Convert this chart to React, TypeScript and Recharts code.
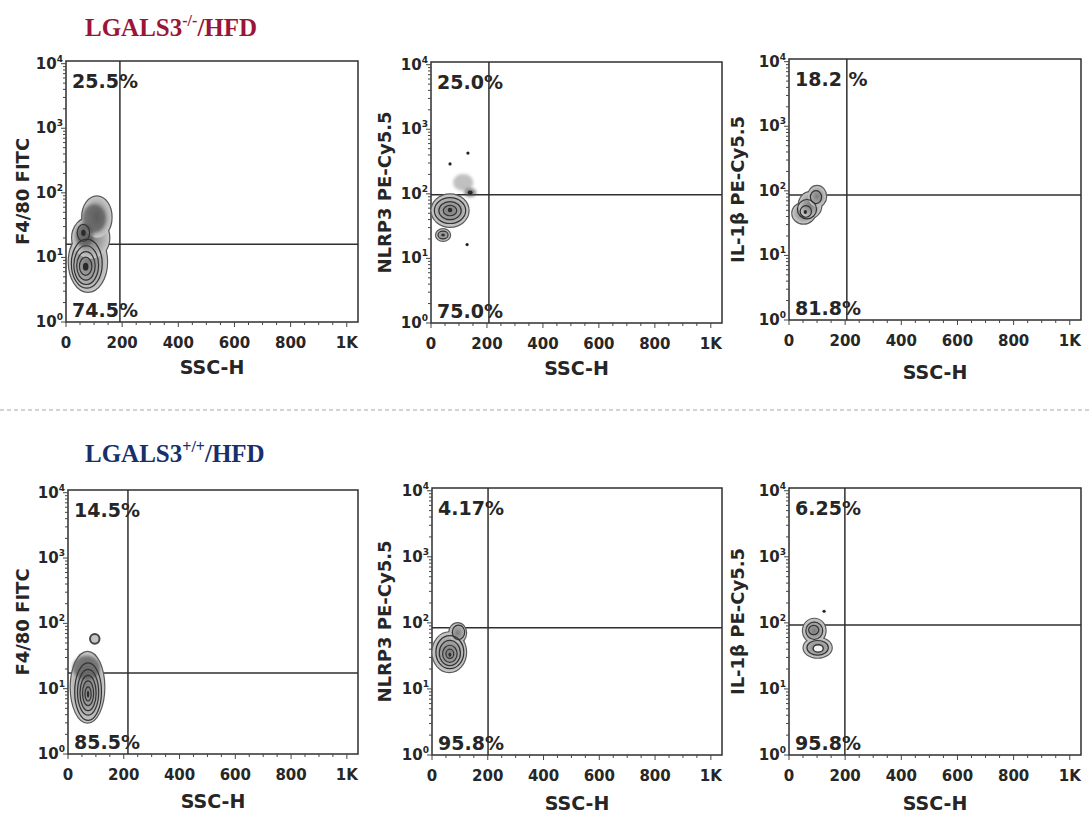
import React from 'react';
import {
  ScatterChart,
  Scatter,
  XAxis,
  YAxis,
  ReferenceArea,
  ReferenceLine,
  Label,
} from 'recharts';

// axis ranges shared by all six plots (linear SSC-H, log fluorescence)
const SSC_MAX = 1040;
const FL_MAX = 11000;
const FL_DECADES = Math.log10(FL_MAX);

const sscTicks = [0, 50, 100, 150, 200, 250, 300, 350, 400, 450, 500, 550, 600, 650, 700, 750, 800, 850, 900, 950, 1000];
const sscTickLabels: Record<number, string> = { 0: '0', 200: '200', 400: '400', 600: '600', 800: '800', 1000: '1K' };
const flTicks = [
  1, 2, 3, 4, 5, 6, 7, 8, 9,
  10, 20, 30, 40, 50, 60, 70, 80, 90,
  100, 200, 300, 400, 500, 600, 700, 800, 900,
  1000, 2000, 3000, 4000, 5000, 6000, 7000, 8000, 9000,
  10000,
];
const flDecadeLabels: Record<number, string> = { 1: '0', 10: '1', 100: '2', 1000: '3', 10000: '4' };

const markers = ['F4/80 FITC', 'NLRP3 PE-Cy5.5', 'IL-1β PE-Cy5.5'];

// LGALS3-/- row
const koUpper = ['25.5%', '25.0%', '18.2 %'];
const koLower = ['74.5%', '75.0%', '81.8%'];
const koGateSsc = [192, 207, 206];
const koGateFl = [16, 97, 86];

// LGALS3+/+ row
const wtUpper = ['14.5%', '4.17%', '6.25%'];
const wtLower = ['85.5%', '95.8%', '95.8%'];
const wtGateSsc = [215, 201, 199];
const wtGateFl = [17.4, 84, 93];

// contour rings: centre (ssc, fl), half-width sx in SSC units, half-height sy in decades
type Ring = { ssc: number; fl: number; sx?: number; sy?: number; kind: string };

const koF480: Ring[] = [
  { ssc: 78, fl: 8.5, sx: 68, sy: 0.46, kind: 'halo' },
  { ssc: 88, fl: 20, sx: 66, sy: 0.32, kind: 'halo' },
  { ssc: 110, fl: 42, sx: 52, sy: 0.32, kind: 'halo' },
  { ssc: 100, fl: 40, sx: 42, sy: 0.22, kind: 'shade' },
  { ssc: 66, fl: 22, sx: 32, sy: 0.18, kind: 'shade' },
  { ssc: 74, fl: 8, sx: 55, sy: 0.38, kind: 'line' },
  { ssc: 72, fl: 7.6, sx: 44, sy: 0.3, kind: 'line' },
  { ssc: 71, fl: 7.4, sx: 33, sy: 0.22, kind: 'line' },
  { ssc: 70, fl: 7.3, sx: 22, sy: 0.14, kind: 'line' },
  { ssc: 62, fl: 24, sx: 22, sy: 0.13, kind: 'line' },
  { ssc: 70, fl: 7.2, sx: 10, sy: 0.06, kind: 'core' },
  { ssc: 62, fl: 24, sx: 8, sy: 0.05, kind: 'core' },
];

const koNlrp3: Ring[] = [
  { ssc: 68, fl: 55, sx: 66, sy: 0.25, kind: 'halo' },
  { ssc: 43, fl: 23, sx: 25, sy: 0.09, kind: 'halo' },
  { ssc: 115, fl: 150, sx: 36, sy: 0.13, kind: 'haze' },
  { ssc: 140, fl: 105, sx: 22, sy: 0.07, kind: 'shade' },
  { ssc: 68, fl: 55, sx: 56, sy: 0.2, kind: 'line' },
  { ssc: 68, fl: 55, sx: 40, sy: 0.14, kind: 'line' },
  { ssc: 68, fl: 55, sx: 24, sy: 0.08, kind: 'line' },
  { ssc: 43, fl: 23, sx: 18, sy: 0.06, kind: 'line' },
  { ssc: 68, fl: 56, sx: 8, sy: 0.035, kind: 'core' },
  { ssc: 43, fl: 23, sx: 6, sy: 0.02, kind: 'core' },
  { ssc: 140, fl: 105, sx: 9, sy: 0.03, kind: 'core' },
  { ssc: 68, fl: 290, kind: 'dot' },
  { ssc: 132, fl: 427, kind: 'dot' },
  { ssc: 129, fl: 16.4, kind: 'dot' },
];

const koIl1b: Ring[] = [
  { ssc: 52, fl: 45, sx: 40, sy: 0.16, kind: 'halo' },
  { ssc: 75, fl: 60, sx: 40, sy: 0.2, kind: 'halo' },
  { ssc: 100, fl: 82, sx: 32, sy: 0.16, kind: 'halo' },
  { ssc: 64, fl: 52, sx: 34, sy: 0.15, kind: 'line' },
  { ssc: 60, fl: 48, sx: 20, sy: 0.09, kind: 'line' },
  { ssc: 96, fl: 80, sx: 20, sy: 0.1, kind: 'line' },
  { ssc: 58, fl: 47, sx: 6, sy: 0.03, kind: 'core' },
];

const wtF480: Ring[] = [
  { ssc: 70, fl: 10.5, sx: 60, sy: 0.54, kind: 'halo' },
  { ssc: 66, fl: 21, sx: 50, sy: 0.18, kind: 'shade' },
  { ssc: 72, fl: 9, sx: 48, sy: 0.44, kind: 'line' },
  { ssc: 72, fl: 8.8, sx: 38, sy: 0.35, kind: 'line' },
  { ssc: 72, fl: 8.6, sx: 29, sy: 0.27, kind: 'line' },
  { ssc: 72, fl: 8.5, sx: 20, sy: 0.19, kind: 'line' },
  { ssc: 72, fl: 8.3, sx: 11, sy: 0.11, kind: 'line' },
  { ssc: 72, fl: 8.2, sx: 4, sy: 0.05, kind: 'core' },
  { ssc: 96, fl: 58, sx: 17, sy: 0.075, kind: 'bubble' },
];

const wtNlrp3: Ring[] = [
  { ssc: 62, fl: 36, sx: 60, sy: 0.3, kind: 'halo' },
  { ssc: 92, fl: 70, sx: 30, sy: 0.15, kind: 'halo' },
  { ssc: 64, fl: 36, sx: 50, sy: 0.25, kind: 'line' },
  { ssc: 64, fl: 35, sx: 38, sy: 0.19, kind: 'line' },
  { ssc: 64, fl: 34, sx: 26, sy: 0.13, kind: 'line' },
  { ssc: 64, fl: 34, sx: 14, sy: 0.07, kind: 'line' },
  { ssc: 95, fl: 72, sx: 22, sy: 0.11, kind: 'line' },
  { ssc: 64, fl: 33, sx: 5, sy: 0.03, kind: 'core' },
];

const wtIl1b: Ring[] = [
  { ssc: 90, fl: 76, sx: 40, sy: 0.18, kind: 'halo' },
  { ssc: 102, fl: 42, sx: 50, sy: 0.15, kind: 'halo' },
  { ssc: 90, fl: 76, sx: 30, sy: 0.13, kind: 'line' },
  { ssc: 88, fl: 78, sx: 18, sy: 0.07, kind: 'line' },
  { ssc: 102, fl: 42, sx: 38, sy: 0.11, kind: 'line' },
  { ssc: 104, fl: 41, sx: 18, sy: 0.055, kind: 'hole' },
  { ssc: 125, fl: 150, kind: 'dot' },
];

// plot frame of every panel on the page
type Frame = { left: number; top: number; w: number; h: number; yTitleGap: number; xTitleGap: number };
const frames: Frame[] = [
  { left: 66, top: 61, w: 292, h: 261, yTitleGap: 43, xTitleGap: 45 },
  { left: 431, top: 62, w: 291, h: 261, yTitleGap: 46, xTitleGap: 45 },
  { left: 789, top: 59, w: 292, h: 261, yTitleGap: 51, xTitleGap: 52 },
  { left: 68, top: 490, w: 290, h: 264, yTitleGap: 45, xTitleGap: 47 },
  { left: 432, top: 488, w: 290, h: 267, yTitleGap: 47, xTitleGap: 48 },
  { left: 789, top: 488, w: 292, h: 267, yTitleGap: 51, xTitleGap: 48 },
];

const FONT = '"DejaVu Sans", sans-serif';
const INK = '#262626';

const SscTick = (props: any) => {
  const { x, y, payload } = props;
  const label = sscTickLabels[payload.value];
  return (
    <g>
      <line x1={x} x2={x} y1={y} y2={y + (label ? 5 : 3)} stroke="#444" strokeWidth={1} />
      {label && (
        <text x={x} y={y + 26} textAnchor="middle" fontFamily={FONT} fontWeight="bold" fontSize={15} fill={INK}>
          {label}
        </text>
      )}
    </g>
  );
};

const FlTick = (props: any) => {
  const { x, y, payload } = props;
  const exp = flDecadeLabels[payload.value];
  return (
    <g>
      <line x1={x - (exp ? 5 : 3)} x2={x} y1={y} y2={y} stroke="#444" strokeWidth={1} />
      {exp && (
        <text x={x - 3} y={y + 5} textAnchor="end" fontFamily={FONT} fontWeight="bold" fontSize={15} fill={INK}>
          10
          <tspan fontSize={9} dy={-7}>{exp}</tspan>
        </text>
      )}
    </g>
  );
};

const ringStyles: Record<string, any> = {
  haloEdge: { fill: '#bdbdbd', stroke: '#5a5a5a', strokeWidth: 2.4 },
  halo: { fill: 'url(#haloFill)', stroke: 'none' },
  haze: { fill: '#8c8c8c', fillOpacity: 0.55, stroke: 'none', filter: 'url(#soften)' },
  shade: { fill: '#4a4a4a', fillOpacity: 0.6, stroke: 'none', filter: 'url(#soften)' },
  line: { fill: 'none', stroke: '#333', strokeWidth: 1.2 },
  hole: { fill: '#f4f4f4', stroke: '#333', strokeWidth: 1.4 },
  bubble: { fill: '#c4c4c4', stroke: '#444', strokeWidth: 2 },
  core: { fill: '#2a2a2a', stroke: 'none' },
};

const makeShape = (frame: Frame, style: string) => (props: any) => {
  const { cx, cy, payload } = props;
  if (cx == null || cy == null) return <g />;
  if (payload.kind === 'dot') return <circle cx={cx} cy={cy} r={1.6} fill="#222" />;
  const rx = ((payload.sx ?? 0) * frame.w) / SSC_MAX;
  const ry = ((payload.sy ?? 0) * frame.h) / FL_DECADES;
  return <ellipse cx={cx} cy={cy} rx={rx} ry={ry} {...ringStyles[style]} />;
};

interface PanelProps {
  frame: Frame;
  rings: Ring[];
  marker: string;
  upper: string;
  lower: string;
  gateSsc: number;
  gateFl: number;
}

const FlowPanel = ({ frame, rings, marker, upper, lower, gateSsc, gateFl }: PanelProps) => {
  const byKind = (k: string) => rings.filter((r) => r.kind === k);
  const halos = byKind('halo');
  return (
    <div style={{ position: 'absolute', left: frame.left - 62, top: frame.top - 12 }}>
      <ScatterChart
        width={62 + frame.w + 8}
        height={12 + frame.h + 62 + 4}
        margin={{ top: 12, right: 8, bottom: 4, left: 2 }}
      >
        <XAxis
          type="number"
          dataKey="ssc"
          domain={[0, SSC_MAX]}
          ticks={sscTicks}
          interval={0}
          tick={<SscTick />}
          tickSize={0}
          tickMargin={0}
          tickLine={false}
          axisLine={false}
          height={62}
          allowDataOverflow
        >
          <Label
            content={(p: any) => (
              <text
                x={p.viewBox.x + p.viewBox.width / 2}
                y={p.viewBox.y + frame.xTitleGap + 7}
                textAnchor="middle"
                fontFamily={FONT}
                fontWeight="bold"
                fontSize={19}
                fill={INK}
              >
                SSC-H
              </text>
            )}
          />
        </XAxis>
        <YAxis
          type="number"
          dataKey="fl"
          scale="log"
          domain={[1, FL_MAX]}
          ticks={flTicks}
          interval={0}
          tick={<FlTick />}
          tickSize={0}
          tickMargin={0}
          tickLine={false}
          axisLine={false}
          width={60}
          allowDataOverflow
        >
          <Label
            content={(p: any) => {
              const cx = p.viewBox.x + p.viewBox.width - frame.yTitleGap;
              const cy = p.viewBox.y + p.viewBox.height / 2;
              return (
                <text
                  transform={`translate(${cx},${cy}) rotate(-90)`}
                  textAnchor="middle"
                  dy="0.36em"
                  fontFamily={FONT}
                  fontWeight="bold"
                  fontSize={18}
                  fill={INK}
                >
                  {marker}
                </text>
              );
            }}
          />
        </YAxis>

        <Scatter data={halos} shape={makeShape(frame, 'haloEdge')} isAnimationActive={false} />
        <Scatter data={halos} shape={makeShape(frame, 'halo')} isAnimationActive={false} />
        <Scatter data={byKind('haze')} shape={makeShape(frame, 'haze')} isAnimationActive={false} />
        <Scatter data={byKind('shade')} shape={makeShape(frame, 'shade')} isAnimationActive={false} />
        <Scatter data={byKind('line')} shape={makeShape(frame, 'line')} isAnimationActive={false} />
        <Scatter data={byKind('hole')} shape={makeShape(frame, 'hole')} isAnimationActive={false} />
        <Scatter data={byKind('bubble')} shape={makeShape(frame, 'bubble')} isAnimationActive={false} />
        <Scatter data={byKind('core')} shape={makeShape(frame, 'core')} isAnimationActive={false} />
        <Scatter data={byKind('dot')} shape={makeShape(frame, 'dot')} isAnimationActive={false} />

        <ReferenceLine x={gateSsc} stroke="#2f2f2f" strokeWidth={1.5} />
        <ReferenceLine y={gateFl} stroke="#2f2f2f" strokeWidth={1.5} />
        <ReferenceArea x1={0} x2={SSC_MAX} y1={1} y2={FL_MAX} fill="none" fillOpacity={0} stroke="#2f2f2f" strokeWidth={1.5}>
          <Label
            content={(p: any) => (
              <g fontFamily={FONT} fontWeight="bold" fontSize={19} fill={INK}>
                <text x={p.viewBox.x + 6} y={p.viewBox.y + 27}>{upper}</text>
                <text x={p.viewBox.x + 6} y={p.viewBox.y + p.viewBox.height - 5}>{lower}</text>
              </g>
            )}
          />
        </ReferenceArea>
      </ScatterChart>
    </div>
  );
};

const koRings = [koF480, koNlrp3, koIl1b];
const wtRings = [wtF480, wtNlrp3, wtIl1b];

export default function App() {
  return (
    <div style={{ position: 'absolute', left: 0, top: 0, width: 1090, height: 816, background: '#fff', overflow: 'hidden' }}>
      <svg width={1090} height={816} style={{ position: 'absolute', left: 0, top: 0 }}>
        <defs>
          <radialGradient id="haloFill">
            <stop offset="0%" stopColor="#7c7c7c" />
            <stop offset="60%" stopColor="#a4a4a4" />
            <stop offset="100%" stopColor="#c9c9c9" />
          </radialGradient>
          <filter id="soften" x="-50%" y="-50%" width="200%" height="200%">
            <feGaussianBlur stdDeviation="1.5" />
          </filter>
        </defs>
        <text x={85} y={36} fontFamily='"Liberation Serif", serif' fontWeight="bold" fontSize={25} fill="#9a1638">
          LGALS3
          <tspan fontSize={16} dy={-10}>-/-</tspan>
          <tspan dy={10}>/HFD</tspan>
        </text>
        <line x1={0} x2={1090} y1={410} y2={410} stroke="#a8a8a8" strokeWidth={1} strokeDasharray="4 3" />
        <text x={85} y={462} fontFamily='"Liberation Serif", serif' fontWeight="bold" fontSize={25} fill="#15306b">
          LGALS3
          <tspan fontSize={16} dy={-10}>+/+</tspan>
          <tspan dy={10}>/HFD</tspan>
        </text>
      </svg>
      {markers.map((m, i) => (
        <FlowPanel
          key={`ko-${m}`}
          frame={frames[i]}
          rings={koRings[i]}
          marker={m}
          upper={koUpper[i]}
          lower={koLower[i]}
          gateSsc={koGateSsc[i]}
          gateFl={koGateFl[i]}
        />
      ))}
      {markers.map((m, i) => (
        <FlowPanel
          key={`wt-${m}`}
          frame={frames[i + 3]}
          rings={wtRings[i]}
          marker={m}
          upper={wtUpper[i]}
          lower={wtLower[i]}
          gateSsc={wtGateSsc[i]}
          gateFl={wtGateFl[i]}
        />
      ))}
    </div>
  );
}
